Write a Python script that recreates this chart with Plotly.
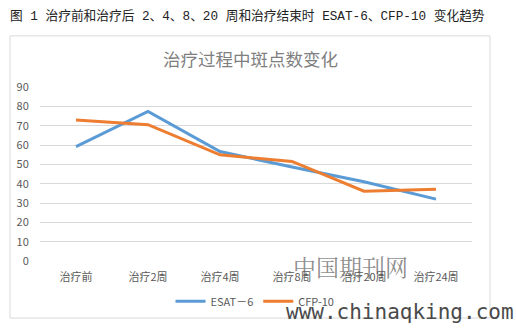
import plotly.graph_objects as go

categories = ["治疗前", "治疗2周", "治疗4周", "治疗8周", "治疗20周", "治疗24周"]
esat6 = [59.2, 77.4, 56.6, 48.6, 41.0, 32.0]
cfp10 = [72.9, 70.5, 54.9, 51.5, 36.1, 37.1]
y_ticks = [0, 10, 20, 30, 40, 50, 60, 70, 80, 90]

W, H = 516, 328
L, R, T, B = 40, 44, 87, 64
pw, ph = W - L - R, H - T - B

def px(x):
    return (x - L) / pw

def py(y):
    return (H - B - y) / ph

font_cjk = "Noto Sans CJK SC, Noto Sans, sans-serif"

fig = go.Figure()
fig.add_trace(go.Scatter(x=categories, y=esat6, mode="lines", name="ESAT－6",
                         line=dict(color="#5B9BD5", width=3)))
fig.add_trace(go.Scatter(x=categories, y=cfp10, mode="lines", name="CFP-10",
                         line=dict(color="#ED7D31", width=3)))

fig.update_layout(
    width=W, height=H,
    margin=dict(l=L, r=R, t=T, b=B, pad=0),
    paper_bgcolor="white", plot_bgcolor="white",
    font=dict(family=font_cjk, color="#595959", size=11),
    showlegend=True,
    legend=dict(orientation="h", x=px(255), xanchor="center", y=py(305), yanchor="middle",
                font=dict(size=11, color="#595959"), itemwidth=30,
                bgcolor="rgba(0,0,0,0)"),
    xaxis=dict(range=[-0.5, len(categories) - 0.5], showgrid=False, zeroline=False,
               showline=False, ticks="outside", ticklen=6, tickcolor="white",
               tickfont=dict(size=11, color="#595959")),
    yaxis=dict(range=[0, 90], tickvals=y_ticks, showgrid=True, gridcolor="#D9D9D9",
               gridwidth=1, zeroline=False, showline=False, ticks="outside",
               ticklen=8, tickcolor="white",
               tickfont=dict(size=11, color="#595959")),
    shapes=[
        dict(type="rect", xref="paper", yref="paper",
             x0=px(10), x1=px(490), y0=py(35), y1=py(322),
             line=dict(color="#D9D9D9", width=1), fillcolor="rgba(0,0,0,0)", layer="below"),
    ],
    annotations=[
        dict(text="图 1 治疗前和治疗后 2、4、8、20 周和治疗结束时 ESAT-6、CFP-10 变化趋势",
             xref="paper", yref="paper", x=px(8), y=py(15), xanchor="left", yanchor="middle",
             showarrow=False,
             font=dict(size=12.7, color="#222222",
                       family="Liberation Mono, Noto Sans CJK SC, monospace")),
        dict(text="治疗过程中斑点数变化", xref="paper", yref="paper",
             x=px(250), y=py(58), xanchor="center", yanchor="middle", showarrow=False,
             font=dict(size=17.5, color="#7F7F7F", family=font_cjk)),
        dict(text="中国期刊网", xref="paper", yref="paper",
             x=px(350), y=py(270), xanchor="center", yanchor="middle", showarrow=False,
             font=dict(size=23, color="rgba(90,90,90,0.7)", family="Noto Serif CJK SC, Noto Sans CJK SC, serif")),
        dict(text="www.chinaqking.com", xref="paper", yref="paper",
             x=px(516), y=py(316), xanchor="right", yanchor="middle", showarrow=False,
             font=dict(size=21, color="#4a4a4a", family="DejaVu Sans Mono, Liberation Mono, monospace")),
    ],
)

fig.write_html("out.html")
